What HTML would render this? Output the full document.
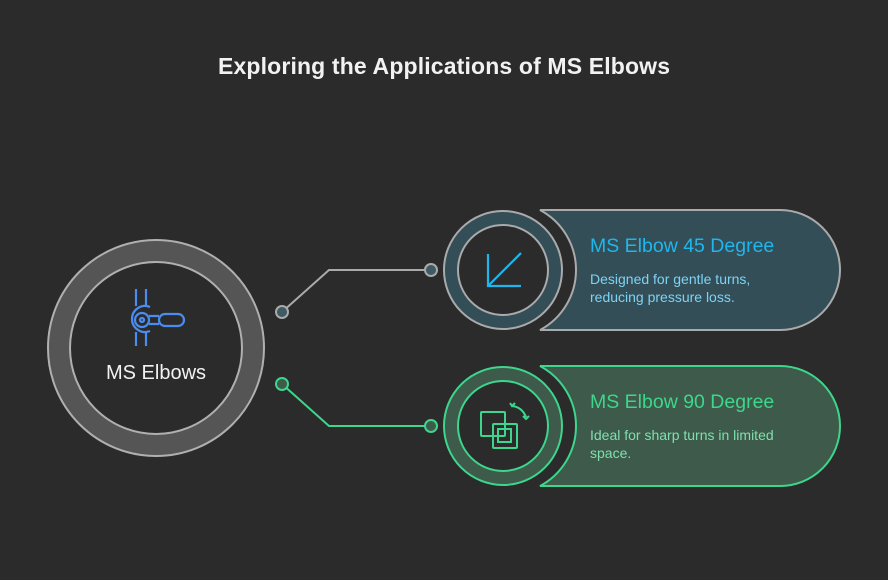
<!DOCTYPE html>
<html><head><meta charset="utf-8"><style>
html,body{margin:0;padding:0;background:#2b2b2b;}
svg{display:block;font-family:"Liberation Sans",sans-serif;}
</style></head><body>
<svg width="888" height="580" viewBox="0 0 888 580">
<rect width="888" height="580" fill="#2b2b2b"/>
<text x="444" y="74" text-anchor="middle" font-size="23" font-weight="bold" fill="#f2f2f2" textLength="452">Exploring the Applications of MS Elbows</text>

<circle cx="156" cy="348" r="108" fill="#555" stroke="#b0b0b0" stroke-width="2"/>
<circle cx="156" cy="348" r="86" fill="#2b2b2b" stroke="#b0b0b0" stroke-width="2"/>
<g stroke="#4a8cf0" stroke-width="2.2" fill="none">
<line x1="136" y1="289" x2="136" y2="306"/><line x1="146" y1="289" x2="146" y2="306"/>
<line x1="136" y1="332" x2="136" y2="346"/><line x1="146" y1="332" x2="146" y2="346"/>
<path d="M150 307 A13 13 0 1 0 150 331"/>
<circle cx="142" cy="320" r="7"/>
<circle cx="142" cy="320" r="2"/>
<path d="M149 316 H159 M149 324 H159"/>
<rect x="159" y="314" width="25" height="12" rx="6"/>
</g>
<text x="156" y="379" text-anchor="middle" font-size="20" fill="#f2f2f2">MS Elbows</text>

<polyline points="282,312 329,270 431,270" fill="none" stroke="#aaa" stroke-width="2"/>
<circle cx="282" cy="312" r="6" fill="#3e5a63" stroke="#aaa" stroke-width="2"/>
<circle cx="431" cy="270" r="6" fill="#3e5a63" stroke="#aaa" stroke-width="2"/>
<polyline points="282,384 329,426 431,426" fill="none" stroke="#3dd68c" stroke-width="2"/>
<circle cx="282" cy="384" r="6" fill="#3d5a4a" stroke="#3dd68c" stroke-width="2"/>
<circle cx="431" cy="426" r="6" fill="#3d5a4a" stroke="#3dd68c" stroke-width="2"/>

<path d="M540 210 H780 A60 60 0 0 1 780 330 H540 A68 68 0 0 0 540 210 Z" fill="#344e57" stroke="#aaa" stroke-width="2"/>
<circle cx="503" cy="270" r="59" fill="#344e57" stroke="#aaa" stroke-width="2"/>
<circle cx="503" cy="270" r="45" fill="#2b2b2b" stroke="#aaa" stroke-width="2"/>
<g stroke="#1fb6ee" stroke-width="2.2" fill="none"><path d="M488 254 V286 H521 M489 285 L521 253"/></g>
<text x="590" y="252" font-size="19.5" fill="#1fb6ee">MS Elbow 45 Degree</text>
<text x="590" y="284" font-size="14" fill="#7dd3f5">Designed for gentle turns,</text>
<text x="590" y="302" font-size="14" fill="#7dd3f5">reducing pressure loss.</text>

<path d="M540 366 H780 A60 60 0 0 1 780 486 H540 A68 68 0 0 0 540 366 Z" fill="#3d5a4a" stroke="#3dd68c" stroke-width="2"/>
<circle cx="503" cy="426" r="59" fill="#3d5a4a" stroke="#3dd68c" stroke-width="2"/>
<circle cx="503" cy="426" r="45" fill="#2b2b2b" stroke="#3dd68c" stroke-width="2"/>
<g stroke="#3dd68c" stroke-width="2" fill="none">
<rect x="481" y="412" width="24" height="24" rx="1"/>
<rect x="493" y="424" width="24" height="24" rx="1"/>
<rect x="498" y="429" width="13" height="13"/>
<path d="M512 406 Q522 407 526 417 M510 403 L512 406 L515 403 M523 416 L526 419 L529 416"/>
</g>
<text x="590" y="408" font-size="19.5" fill="#3ed68c">MS Elbow 90 Degree</text>
<text x="590" y="440" font-size="14" fill="#7fe0ae">Ideal for sharp turns in limited</text>
<text x="590" y="458" font-size="14" fill="#7fe0ae">space.</text>
</svg>
</body></html>
